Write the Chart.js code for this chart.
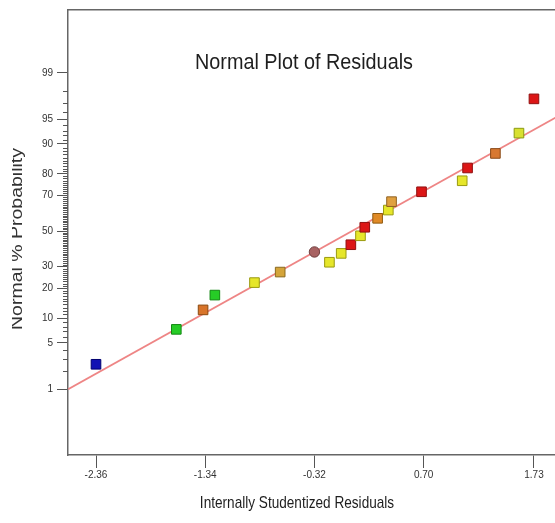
<!DOCTYPE html>
<html>
<head>
<meta charset="utf-8">
<script src="https://cdn.jsdelivr.net/npm/chart.js@4.4.1/dist/chart.umd.min.js"></script>
<style>
  html, body { margin: 0; padding: 0; background: #fff; overflow: hidden; }
  #wrap { position: absolute; left: 12px; top: 0; width: 543px; height: 523px; overflow: hidden; }
  #c { position: absolute; left: -12px; top: 0; }
</style>
</head>
<body>
<div id="wrap"><canvas id="c" width="590" height="523" style="width:590px;height:523px"></canvas></div>
<script>
// ---------- data ----------
const chartTitle = 'Normal Plot of Residuals';
const xAxisTitle = 'Internally Studentized Residuals';
const yAxisTitle = 'Normal % Probability';

const xTickValues = [-2.36, -1.34, -0.32, 0.70, 1.73];
const xTickLabels = ['-2.36', '-1.34', '-0.32', '0.70', '1.73'];
const yMajorTicks = [1, 5, 10, 20, 30, 50, 70, 80, 90, 95, 99];
const yMinorTicks = [];
for (let p = 2; p <= 98; p++) if (!yMajorTicks.includes(p)) yMinorTicks.push(p);

const residuals     = [-2.36, -1.61, -1.36, -1.25, -0.88, -0.64, -0.32, -0.18, -0.07, 0.02, 0.11, 0.15, 0.27, 0.37, 0.40, 0.68, 1.06, 1.11, 1.37, 1.59, 1.73];
const probabilities = [ 2.5,   7.4,  12.3,  17.3,  22.4,  27.3,  37.9,  32.3,  37.1, 42.0, 47.2, 52.2, 57.4, 62.1, 66.7, 71.8, 77.0, 82.3, 87.3, 92.5, 97.4];
const pointFill   = ['#1212b4', '#26cc26', '#d8742a', '#26cc26', '#e6e62a', '#d4a43a', '#a86262', '#e6e62a', '#e6e62a', '#dc1616', '#e6e62a', '#dc1616', '#e08a26', '#e6e62a', '#e0a040', '#dc1616', '#e6e62a', '#dc1616', '#d87830', '#d8e030', '#dc1616'];
const pointBorder = ['#000070', '#128812', '#8a4a10', '#128812', '#9a9a10', '#8a6a20', '#704040', '#9a9a10', '#9a9a10', '#901010', '#9a9a10', '#901010', '#905a10', '#9a9a10', '#906020', '#901010', '#9a9a10', '#901010', '#8a4a18', '#8a9a10', '#901010'];
const pointShape  = ['rect', 'rect', 'rect', 'rect', 'rect', 'rect', 'circle', 'rect', 'rect', 'rect', 'rect', 'rect', 'rect', 'rect', 'rect', 'rect', 'rect', 'rect', 'rect', 'rect', 'rect'];

const fitLineX = [-2.62, 2.16];
const fitLineP = [1.0, 96.9];

// ---------- probability (normal) transform ----------
function probit(p) {
  const a=[-3.969683028665376e+01,2.209460984245205e+02,-2.759285104469687e+02,1.383577518672690e+02,-3.066479806614716e+01,2.506628277459239e+00];
  const b=[-5.447609879822406e+01,1.615858368580409e+02,-1.556989798598866e+02,6.680131188771972e+01,-1.328068155288572e+01];
  const c=[-7.784894002430293e-03,-3.223964580411365e-01,-2.400758277161838e+00,-2.549671010243481e+00,4.374664141464968e+00,2.938163982698783e+00];
  const d=[7.784695709041462e-03,3.224671290700398e-01,2.445134137142996e+00,3.754408661907416e+00];
  const pl = 0.02425, ph = 1 - pl; let q, r;
  if (p < pl) { q = Math.sqrt(-2*Math.log(p)); return (((((c[0]*q+c[1])*q+c[2])*q+c[3])*q+c[4])*q+c[5])/((((d[0]*q+d[1])*q+d[2])*q+d[3])*q+1); }
  if (p <= ph) { q = p - 0.5; r = q*q; return (((((a[0]*r+a[1])*r+a[2])*r+a[3])*r+a[4])*r+a[5])*q/(((((b[0]*r+b[1])*r+b[2])*r+b[3])*r+b[4])*r+1); }
  q = Math.sqrt(-2*Math.log(1-p)); return -(((((c[0]*q+c[1])*q+c[2])*q+c[3])*q+c[4])*q+c[5])/((((d[0]*q+d[1])*q+d[2])*q+d[3])*q+1);
}

const FONT = '"Liberation Sans", Arial, sans-serif';

const pointsData = residuals.map((x, i) => ({ x: x, y: probit(probabilities[i] / 100) }));
const lineData = fitLineX.map((x, i) => ({ x: x, y: probit(fitLineP[i] / 100) }));

function condensedText(ctx, text, x, y, font, sx, color) {
  ctx.save();
  ctx.translate(x, y);
  ctx.scale(sx, 1);
  ctx.font = font;
  ctx.fillStyle = color;
  ctx.textAlign = 'center';
  ctx.textBaseline = 'alphabetic';
  ctx.fillText(text, 0, 0);
  ctx.restore();
}

const overlay = {
  id: 'overlay',
  afterDraw(chart) {
    const { ctx, chartArea: ca, scales } = chart;
    ctx.save();
    ctx.strokeStyle = '#555';
    ctx.lineWidth = 1;
    ctx.beginPath();
    yMinorTicks.forEach(p => {
      const y = Math.round(scales.y.getPixelForValue(probit(p / 100))) + 0.5;
      ctx.moveTo(ca.left - 5, y);
      ctx.lineTo(ca.left, y);
    });
    ctx.stroke();
    ctx.restore();

    condensedText(ctx, chartTitle, ca.left + 236, 69, '22px ' + FONT, 0.9, '#1e1e1e');
    condensedText(ctx, xAxisTitle, ca.left + 229, 508, '17px ' + FONT, 0.8, '#1e1e1e');

    ctx.save();
    ctx.translate(22, 239);
    ctx.rotate(-Math.PI / 2);
    ctx.scale(1, 0.8);
    ctx.font = '19.5px ' + FONT;
    ctx.fillStyle = '#333';
    ctx.textAlign = 'center';
    ctx.textBaseline = 'alphabetic';
    ctx.fillText(yAxisTitle, 0, 0);
    ctx.restore();
  }
};

new Chart(document.getElementById('c'), {
  type: 'scatter',
  data: {
    datasets: [
      {
        label: 'Residuals',
        data: pointsData,
        pointStyle: pointShape,
        pointRadius: pointShape.map(s => s === 'circle' ? 5.2 : 6.8),
        pointBackgroundColor: pointFill,
        pointBorderColor: pointBorder,
        pointBorderWidth: 1,
        order: 0
      },
      {
        label: 'Fit',
        data: lineData,
        showLine: true,
        pointRadius: 0,
        borderColor: 'rgba(236,120,120,0.9)',
        borderWidth: 1.8,
        order: 1
      }
    ]
  },
  options: {
    responsive: false,
    animation: false,
    events: [],
    layout: { padding: { left: 0, top: 10, right: 10, bottom: 0 } },
    plugins: { legend: { display: false }, tooltip: { enabled: false }, title: { display: false } },
    scales: {
      x: {
        type: 'linear', position: 'bottom', min: -2.6215, max: 2.16, bounds: 'data',
        afterBuildTicks: s => { s.ticks = xTickValues.map(v => ({ value: v })); },
        afterFit: s => { s.height = 68; },
        ticks: { autoSkip: false, maxRotation: 0, padding: 1, color: '#333', font: { size: 10, family: FONT },
                 callback: (v, i) => xTickLabels[i] },
        grid: { display: true, drawOnChartArea: false, drawTicks: true, tickLength: 13, tickColor: '#555', tickWidth: 1 },
        border: { display: true, color: '#666', width: 1.5 }
      },
      y: {
        type: 'linear', position: 'left', min: -3.294, max: 3.25, bounds: 'data',
        afterBuildTicks: s => { s.ticks = yMajorTicks.map(p => ({ value: probit(p / 100) })); },
        afterFit: s => { s.width = 68; },
        ticks: { autoSkip: false, padding: 4, color: '#333', font: { size: 10, family: FONT },
                 callback: (v, i) => String(yMajorTicks[i]) },
        grid: { display: true, drawOnChartArea: false, drawTicks: true, tickLength: 11, tickColor: '#555', tickWidth: 1 },
        border: { display: true, color: '#666', width: 1.5 }
      },
      x2: {
        type: 'linear', position: 'top', min: 0, max: 1,
        afterFit: s => { s.height = 0; },
        ticks: { display: false },
        grid: { display: false, drawTicks: false },
        border: { display: true, color: '#666', width: 1.5 }
      },
      y2: {
        type: 'linear', position: 'right', min: 0, max: 1,
        afterFit: s => { s.width = 0; },
        ticks: { display: false },
        grid: { display: false, drawTicks: false },
        border: { display: true, color: '#666', width: 1.5 }
      }
    }
  },
  plugins: [overlay]
});
</script>
</body>
</html>
